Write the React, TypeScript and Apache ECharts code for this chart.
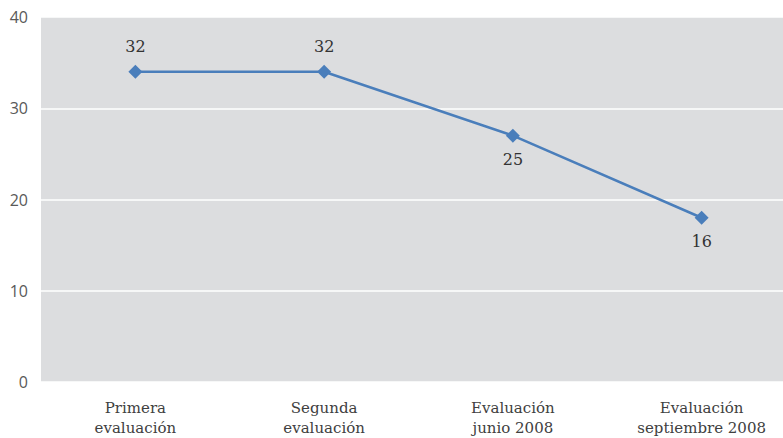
import React, { useEffect, useRef } from "react";
import * as echarts from "echarts";

const categories = ["Primera\nevaluación", "Segunda\nevaluación", "Evaluación\njunio 2008", "Evaluación\nseptiembre 2008"];
const plottedValues = [34, 34, 27, 18];
const labelTexts = ["32", "32", "25", "16"];
const labelPositions = ["top", "top", "bottom", "bottom"];

export default function App() {
  const ref = useRef<HTMLDivElement>(null);
  useEffect(() => {
    if (!ref.current) return;
    const chart = echarts.init(ref.current, null, { renderer: "svg" });
    chart.setOption({
      animation: false,
      backgroundColor: "#ffffff",
      grid: {
        left: 41,
        top: 17,
        width: 755,
        bottom: 56,
        show: true,
        backgroundColor: "#dcdddf",
        borderWidth: 0,
        containLabel: false,
        outerBoundsMode: "none",
      },
      xAxis: {
        type: "category",
        data: categories,
        boundaryGap: true,
        axisLine: { show: false },
        axisTick: { show: false },
        axisLabel: {
          margin: 16,
          fontFamily: "DejaVu Serif",
          fontSize: 15,
          lineHeight: 20,
          color: "#404040",
        },
        splitLine: { show: false },
      },
      yAxis: {
        type: "value",
        min: 0,
        max: 40,
        interval: 10,
        axisLine: { show: false },
        axisTick: { show: false },
        axisLabel: {
          margin: 13,
          fontFamily: "Open Sans",
          fontSize: 16,
          color: "#595959",
        },
        splitLine: { show: true, lineStyle: { color: "#ffffff", width: 1.5 } },
      },
      series: [
        {
          type: "line",
          data: plottedValues.map((v, i) => ({
            value: v,
            label: {
              show: true,
              position: labelPositions[i],
              distance: labelPositions[i] === "top" ? 10 : 9,
              formatter: labelTexts[i],
            },
          })),
          symbol: "diamond",
          symbolSize: 14,
          lineStyle: { color: "#4a7ebb", width: 2.5 },
          itemStyle: { color: "#4a7ebb" },
          label: {
            fontFamily: "DejaVu Serif",
            fontSize: 16,
            color: "#333333",
          },
        },
      ],
    });
    return () => chart.dispose();
  }, []);
  return (
    <div
      ref={ref}
      style={{ position: "fixed", left: 0, top: 0, width: 783, height: 438 }}
    />
  );
}
